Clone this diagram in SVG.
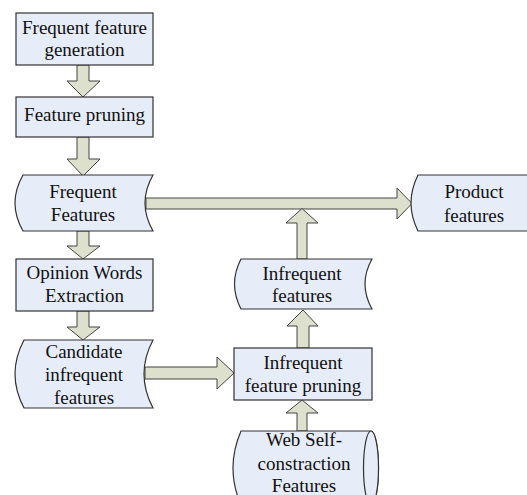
<svg xmlns="http://www.w3.org/2000/svg" width="527" height="495" viewBox="0 0 527 495">
<style>
.n{fill:#E6ECF8;stroke:#333;stroke-width:1.2}
.a{fill:#DDE0CC;stroke:#444;stroke-width:1}
.t{font-family:'Liberation Serif','Times New Roman','DejaVu Serif',Tinos,serif;font-size:19px;fill:#111;text-anchor:middle}
</style>
<rect width="527" height="495" fill="#fff"/>
<g id="connectors">
<path class="a" d="M77,65 L89,65 L89,81 L100,81 L83,97 L67,81 L77,81 Z"/>
<path class="a" d="M77,137 L89,137 L89,159 L100,159 L83,176 L67,159 L77,159 Z"/>
<path class="a" d="M77,231 L89,231 L89,246 L100,246 L83,259 L67,246 L77,246 Z"/>
<path class="a" d="M77,311 L89,311 L89,327 L100,327 L83,340 L67,327 L77,327 Z"/>
<path class="a" d="M146,198 L397,198 L397,188 L412,203.5 L397,219 L397,209 L146,209 Z"/>
<path class="a" d="M297,259 L297,223 L286,223 L302,208.5 L318,223 L307,223 L307,259 Z"/>
<path class="a" d="M297,348 L297,326 L287,326 L303,310 L318,326 L309,326 L309,348 Z"/>
<path class="a" d="M297,431 L297,413 L286,413 L302,400 L318,413 L307,413 L307,431 Z"/>
<path class="a" d="M145,367 L217,367 L217,357 L234,373 L217,389 L217,379 L145,379 Z"/>
</g>
<g class="t" font-family="Liberation Serif, serif">
<g id="n1">
<rect class="n" x="16" y="13" width="137" height="52"/>
<text x="84.5" y="33.5">Frequent feature</text>
<text x="84.5" y="56">generation</text>
</g>
<g id="n2">
<rect class="n" x="16" y="97" width="137" height="40"/>
<text x="84.5" y="121">Feature pruning</text>
</g>
<g id="n3">
<path class="n" d="M23,175 L153,175 Q137,203 153,231 L23,231 Q7,203 23,175 Z"/>
<text x="83" y="197.5">Frequent</text>
<text x="83" y="221">Features</text>
</g>
<g id="n4">
<rect class="n" x="16" y="259" width="137" height="52"/>
<text x="84.5" y="278.5">Opinion Words</text>
<text x="84.5" y="302">Extraction</text>
</g>
<g id="n5">
<path class="n" d="M24,340 L153,340 Q135,374 153,408 L24,408 Q6,374 24,340 Z"/>
<text x="84" y="357.5">Candidate</text>
<text x="84" y="380.5">infrequent</text>
<text x="84" y="403.5">features</text>
</g>
<g id="n6">
<path class="n" d="M418,175 L540,175 Q524,203 540,231 L418,231 Q404,203 418,175 Z"/>
<text x="474" y="197.5">Product</text>
<text x="474" y="221.5">features</text>
</g>
<g id="n7">
<path class="n" d="M241,259 L372,259 Q358,284 372,309 L241,309 Q228,284 241,259 Z"/>
<text x="302" y="280">Infrequent</text>
<text x="302" y="302">features</text>
</g>
<g id="n8">
<rect class="n" x="234" y="348" width="138" height="52"/>
<text x="303" y="368.5">Infrequent</text>
<text x="303" y="391.5">feature pruning</text>
</g>
<g id="n9">
<path class="n" d="M241,431 L371,431 A7.5,37 0 0 1 371,505 L241,505 Q225,468 241,431 Z"/>
<ellipse class="n" cx="371" cy="468" rx="7.5" ry="37" fill="none"/>
<text x="304" y="446">Web Self-</text>
<text x="304" y="469.5">constraction</text>
<text x="304" y="492">Features</text>
</g>
</g>
</svg>
